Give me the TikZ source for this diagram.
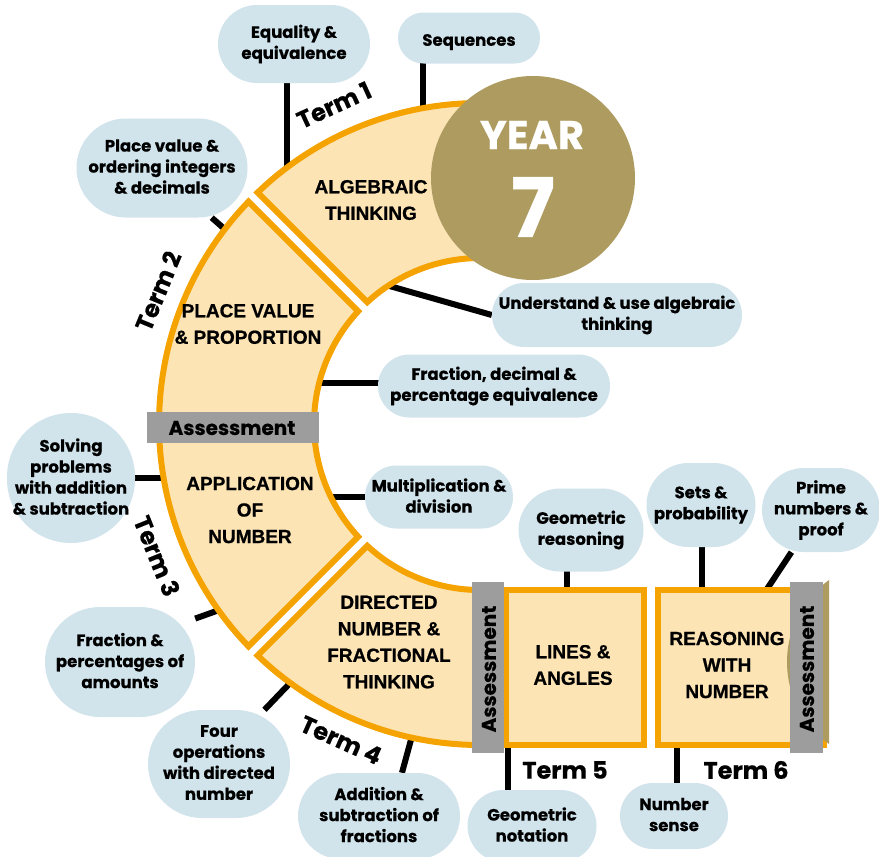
\documentclass[tikz,border=0pt]{standalone}
\usepackage{fontspec}
\newfontfamily\pop{Poppins}[BoldFeatures={FakeBold=0.5}]
\newfontfamily\lib{Liberation Sans}[BoldFeatures={FakeBold=0.8}]
\pgfdeclarelayer{bottom}
\pgfdeclarelayer{conn}
\pgfsetlayers{bottom,conn,main}
\definecolor{ringfill}{HTML}{FDE4B5}
\definecolor{ringline}{HTML}{F5A300}
\definecolor{bubc}{HTML}{D1E4EC}
\definecolor{goldc}{HTML}{AD9B5F}
\definecolor{greyc}{HTML}{9D9D9D}
\begin{document}
\begin{tikzpicture}[x=1pt,y=-1pt,
  seg/.style={fill=ringfill,draw=ringline,line width=6pt},
  bub/.style={fill=bubc,inner sep=0pt,align=center,font=\pop\bfseries\fontsize{16.5}{21}\selectfont,
    execute at begin node={\rule{0pt}{20pt}},execute at end node={\rule[-3pt]{0pt}{3pt}}},
  con/.style={line width=6pt,black},
  ttl/.style={align=center,font=\lib\bfseries\fontsize{19}{26.5}\selectfont},
  term/.style={font=\pop\bfseries\fontsize{24}{28}\selectfont},
  assbar/.style={fill=greyc},
  asstext/.style={font=\pop\bfseries\fontsize{20}{24}\selectfont}]
\begin{pgfonlayer}{bottom}
\fill[white] (0,0) rectangle (879,857);
\end{pgfonlayer}
\useasboundingbox (0,0) rectangle (879,857);

% ring
\begin{scope}[shift={(480,424)}]
\draw[seg] (-80:321) arc[start angle=-80,end angle=-133.84,radius=321]
  -- (-132.76:166) arc[start angle=-132.76,end angle=-80,radius=166] -- cycle;
\draw[seg] (-136.16:321) arc[start angle=-136.16,end angle=-223.84,radius=321]
  -- (-222.76:166) arc[start angle=-222.76,end angle=-137.24,radius=166] -- cycle;
\draw[seg] (-226.16:321) arc[start angle=-226.16,end angle=-270,radius=321]
  -- (12,321) -- (12,166) -- (0,166) arc[start angle=-270,end angle=-227.24,radius=166] -- cycle;
\end{scope}
\draw[seg] (506,590) rectangle (644,745);
\draw[seg] (658,590) rectangle (824,745);
\begin{scope}
\clip (760,560) rectangle (829,760);
\fill[goldc] (888,662) circle (101);
\end{scope}

% assessment bars
\fill[assbar] (147,412) rectangle (319,443);
\node[asstext] (a1) at (232,428) {Assessment};
\fill[assbar] (472,582) rectangle (504,753);
\node[asstext,rotate=90] (a2) at (489,669) {Assessment};
\fill[assbar] (790,582) rectangle (823,753);
\node[asstext,rotate=90] (a3) at (807,669) {Assessment};

% year circle
\node[circle,fill=goldc,minimum size=204pt,inner sep=0pt] (y7) at (533,178) {};
\node[font=\pop\bfseries\fontsize{40}{40}\selectfont,text=white] (yr) at (532,135) {YEAR};
\node[font=\pop\bfseries\fontsize{82}{84}\selectfont,text=white] (sv) at (533,207) {7};

% titles
\node[ttl] (t1) at (371,200) {ALGEBRAIC\\THINKING};
\node[ttl] (t2) at (248,324) {PLACE VALUE\\\& PROPORTION};
\node[ttl] (t3) at (250,510) {APPLICATION\\OF\\NUMBER};
\node[ttl] (t4) at (389,642) {DIRECTED\\NUMBER \&\\FRACTIONAL\\THINKING};
\node[ttl] (t5) at (573,665) {LINES \&\\ANGLES};
\node[ttl] (t6) at (727,665) {REASONING\\WITH\\NUMBER};

% terms
\node[term,rotate=24.6,inner sep=0pt] (m1) at (334,105) {Term 1};
\node[term,rotate=67.6,inner sep=0pt] (m2) at (158,291) {Term 2};
\node[term,rotate=-68,inner sep=0pt] (m3) at (157,556) {Term 3};
\node[term,rotate=-24,inner sep=0pt] (m4) at (341,740) {Term 4};
\node[term] (m5) at (565,770) {Term 5};
\node[term] (m6) at (746,770) {Term 6};

% bubbles
\node[bub,minimum width=152pt,minimum height=78pt,rounded corners=39pt] (b1) at (294,44) {Equality \&\\equivalence};
\node[bub,minimum width=142pt,minimum height=51pt,rounded corners=25.5pt] (b2) at (469,38) {Sequences};
\node[bub,minimum width=171pt,minimum height=99pt,rounded corners=49.5pt] (b3) at (162,168) {Place value \&\\ordering integers\\\& decimals};
\node[bub,minimum width=250pt,minimum height=64pt,rounded corners=32pt] (b4) at (617,315) {Understand \& use algebraic\\thinking};
\node[bub,minimum width=232pt,minimum height=63pt,rounded corners=31.5pt] (b5) at (494,386) {Fraction, decimal \&\\percentage equivalence};
\node[bub,minimum width=148pt,minimum height=63pt,rounded corners=31.5pt] (b6) at (439,497) {Multiplication \&\\division};
\node[bub,minimum width=128pt,minimum height=130pt,rounded corners=63.9pt] (b7) at (71,478) {Solving\\problems\\with addition\\\& subtraction};
\node[bub,minimum width=150pt,minimum height=110pt,rounded corners=55pt] (b8) at (120,662) {Fraction \&\\percentages of\\amounts};
\node[bub,minimum width=142pt,minimum height=108pt,rounded corners=54pt] (b9) at (219,764) {Four\\operations\\with directed\\number};
\node[bub,minimum width=162pt,minimum height=86pt,rounded corners=43pt] (b10) at (379,816) {Addition \&\\subtraction of\\fractions};
\node[bub,minimum width=129pt,minimum height=72pt,rounded corners=36pt] (b11) at (532,826) {Geometric\\notation};
\node[bub,minimum width=108pt,minimum height=66pt,rounded corners=33pt] (b12) at (674,816) {Number\\sense};
\node[bub,minimum width=125pt,minimum height=83pt,rounded corners=41.5pt] (b13) at (581,530) {Geometric\\reasoning};
\node[bub,minimum width=109pt,minimum height=84pt,rounded corners=42pt] (b14) at (701,505) {Sets \&\\probability};
\node[bub,minimum width=118pt,minimum height=84pt,rounded corners=42pt] (b15) at (821,510) {Prime\\numbers \&\\proof};

% ring attachment points
\coordinate (r1) at (287,172);
\coordinate (r2) at (423,112);
\coordinate (r3) at (228,232);
\coordinate (r4) at (386,285);
\coordinate (r5) at (315,383);
\coordinate (r6) at (326,497);
\coordinate (r7) at (165,478);
\coordinate (r8) at (222,609);
\coordinate (r9) at (292,681);
\coordinate (r10) at (412,736);
\coordinate (r11) at (508,745);
\coordinate (r12) at (567,592);
\coordinate (r13) at (702,592);
\coordinate (r14) at (765,592);
\coordinate (r15) at (677,745);

\begin{pgfonlayer}{conn}
\draw[con] (r1) -- (r1 |- b1);
\draw[con] (r2) -- (r2 |- b2);
\draw[con] (r3) -- (b3.-45);
\draw[con] (r4) -- (b4.west);
\draw[con] (r5) -- (r5 -| b5);
\draw[con] (r6) -- (r6 -| b6);
\draw[con] (r7) -- (r7 -| b7);
\draw[con] (r8) -- (b8.30);
\draw[con] (r9) -- (b9.50);
\draw[con] (r10) -- (b10.62);
\draw[con] (r11) -- (r11 |- b11);
\draw[con] (r12) -- (r12 |- b13);
\draw[con] (r13) -- (r13 |- b14);
\draw[con] (r14) -- (b15.235);
\draw[con] (r15) -- (r15 |- b12);
\end{pgfonlayer}
\end{tikzpicture}
\end{document}
